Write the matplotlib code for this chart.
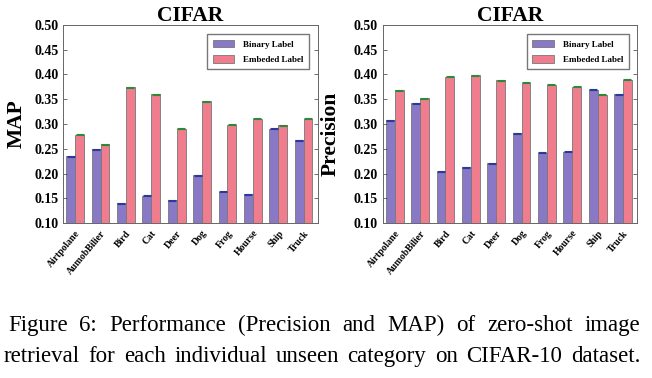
import numpy as np
import matplotlib.pyplot as plt
from matplotlib.transforms import ScaledTranslation

plt.rcParams['font.family'] = 'Liberation Serif'

categories = ['Airtpolane', 'AumobBilier', 'Bird', 'Cat', 'Deer', 'Dog',
              'Frog', 'Hourse', 'Ship', 'Truck']

map_binary = [0.235, 0.249, 0.140, 0.155, 0.146, 0.196, 0.163, 0.158, 0.290, 0.267]
map_embed = [0.278, 0.259, 0.374, 0.360, 0.290, 0.346, 0.298, 0.311, 0.297, 0.311]

prec_binary = [0.308, 0.342, 0.204, 0.213, 0.221, 0.281, 0.242, 0.244, 0.369, 0.360]
prec_embed = [0.368, 0.352, 0.395, 0.398, 0.388, 0.383, 0.379, 0.375, 0.359, 0.389]

yticks = [0.10, 0.15, 0.20, 0.25, 0.30, 0.35, 0.40, 0.45, 0.50]

c_bin = '#8878c6'
c_emb = '#f07d8e'

fig = plt.figure(figsize=(6.52, 3.78), dpi=100)


def panel(rect, binary, embed, ylabel, label_xy):
    ax = fig.add_axes(rect)
    x = np.arange(len(categories))
    w = 0.35
    ax.bar(x - w / 2, binary, w, color=c_bin, edgecolor='#777777',
           linewidth=0.6, label='Binary Label')
    ax.bar(x + w / 2, embed, w, color=c_emb, edgecolor='#777777',
           linewidth=0.6, label='Embeded Label')
    ax.errorbar(x - w / 2, binary, yerr=0.001, fmt='none', ecolor='#2a3a9a',
                capsize=3, elinewidth=0.6, capthick=0.8)
    ax.errorbar(x + w / 2, embed, yerr=0.001, fmt='none', ecolor='#2a8a3a',
                capsize=3, elinewidth=0.6, capthick=0.8)
    ax.set_ylim(0.10, 0.50)
    ax.set_xlim(-0.47, 9.55)
    ax.set_yticks(yticks)
    ax.set_yticklabels(['%.2f' % v for v in yticks], fontsize=10,
                       fontweight='bold')
    ax.set_xticks(x)
    labels = ax.set_xticklabels(categories, rotation=50, ha='right',
                                rotation_mode='anchor', fontsize=7,
                                fontweight='bold')
    shift = ScaledTranslation(3 / 100, 0, fig.dpi_scale_trans)
    for lb in labels:
        lb.set_transform(lb.get_transform() + shift)
    ax.tick_params(direction='in', top=True, right=True, length=3,
                   width=0.6, color='#555555')
    ax.tick_params(axis='x', length=0, pad=4)
    for s in ax.spines.values():
        s.set_color('#666666')
        s.set_linewidth(0.7)
    ax.set_title('CIFAR', fontsize=15.5, fontweight='bold', pad=2.5)
    ax.set_ylabel(ylabel, fontsize=15.5, fontweight='bold')
    ax.yaxis.set_label_coords(*label_xy)
    ax.legend(loc='upper right', prop={'size': 6.5, 'weight': 'bold'},
              frameon=True, fancybox=False, edgecolor='#555555',
              handlelength=2.4, handleheight=0.9, borderpad=0.6,
              labelspacing=0.7, handletextpad=1.0,
              bbox_to_anchor=(0.985, 0.975))
    return ax


panel([0.097, 0.41, 0.39, 0.524], map_binary, map_embed, 'MAP', (-0.145, 0.5))
panel([0.587, 0.41, 0.39, 0.524], prec_binary, prec_embed, 'Precision',
      (-0.165, 0.45))

caption = [
    'Figure 6:  Performance (Precision and MAP) of zero-shot image',
    'retrieval for each individual unseen category on CIFAR-10 dataset.',
]

# justify each caption line between two x limits
fig.canvas.draw()
r = fig.canvas.get_renderer()
for line, ybase, x0 in zip(caption, [0.124, 0.042], [8 / 652, 4 / 652]):
    x1 = 640 / 652
    words = line.split()
    texts = [fig.text(0, ybase, w_, fontsize=16.5, va='baseline') for w_ in words]
    widths = [t.get_window_extent(r).width / fig.bbox.width for t in texts]
    gap = (x1 - x0 - sum(widths)) / (len(words) - 1)
    pos = x0
    for t, wd in zip(texts, widths):
        t.set_x(pos)
        pos += wd + gap

fig.savefig('out.png', dpi=100)
